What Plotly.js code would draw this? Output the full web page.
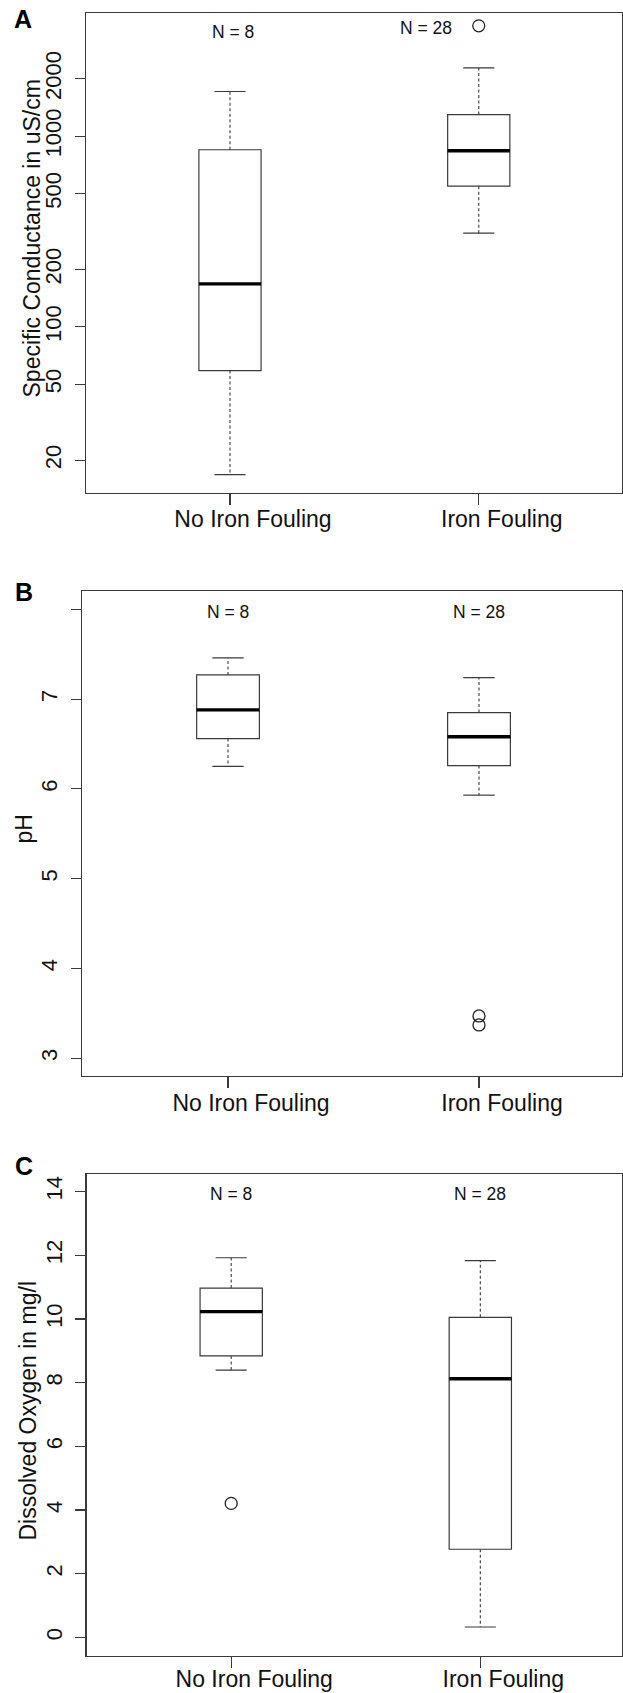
<!DOCTYPE html>
<html>
<head>
<meta charset="utf-8">
<script src="https://cdn.plot.ly/plotly-3.0.1.min.js"></script>
<style>
  html, body { margin: 0; padding: 0; background: #ffffff; }
  #chart { width: 623px; height: 1693px; }
</style>
</head>
<body>
<div id="chart"></div>
<script>
// ---------------- DATA ----------------
const categories = ['No Iron Fouling', 'Iron Fouling'];
const nCounts = [8, 28];

// Panel A: Specific conductance (uS/cm), log scale
const condLowerWhisker = [16.8, 310];
const condQ1 = [59, 547];
const condMedian = [168, 839];
const condQ3 = [849, 1298];
const condUpperWhisker = [1715, 2280];
const condOutliers = [[], [3790]];
const condTickVals = [20, 50, 100, 200, 500, 1000, 2000];
const condTickText = ['20', '50', '100', '200', '500', '1000', '2000'];

// Panel B: pH
const phLowerWhisker = [6.25, 5.93];
const phQ1 = [6.56, 6.26];
const phMedian = [6.88, 6.58];
const phQ3 = [7.27, 6.85];
const phUpperWhisker = [7.46, 7.24];
const phOutliers = [[], [3.47, 3.37]];
const phTickVals = [3, 4, 5, 6, 7, 8];
const phTickText = ['3', '4', '5', '6', '7', ''];

// Panel C: Dissolved oxygen (mg/l)
const doLowerWhisker = [8.39, 0.33];
const doQ1 = [8.84, 2.77];
const doMedian = [10.23, 8.12];
const doQ3 = [10.97, 10.05];
const doUpperWhisker = [11.92, 11.83];
const doOutliers = [[4.21], []];
const doTickVals = [0, 2, 4, 6, 8, 10, 12, 14];
const doTickText = ['0', '2', '4', '6', '8', '10', '12', '14'];

const panelLetters = ['A', 'B', 'C'];
const axisTitles = ['Specific Conductance in uS/cm', 'pH', 'Dissolved Oxygen in mg/l'];

// ---------------- LAYOUT HELPERS ----------------
const W = 623, H = 1693;
const FONT = 'Liberation Sans, Arial, Helvetica, sans-serif';
const LINE = '#3a3a3a';
const positions = categories.map((c, i) => i + 1);
const BOX_W = 0.25;

const panels = [
  { stats: [condLowerWhisker, condQ1, condMedian, condQ3, condUpperWhisker], out: condOutliers,
    tv: condTickVals, tt: condTickText, type: 'log', yr: [1.131, 3.647], xr: [0.422, 2.575],
    box: { top: 12.8, bottom: 492.6, left: 86.2, right: 621.8 }, xStand: -5,
    nY: [31.6, 27.7], nShift: [3, -53], titleXY: [31.5, 239], letterXY: [23.5, 18.5] },
  { stats: [phLowerWhisker, phQ1, phMedian, phQ3, phUpperWhisker], out: phOutliers,
    tv: phTickVals, tt: phTickText, type: 'linear', yr: [2.80, 8.20], xr: [0.419, 2.569],
    box: { top: 591.4, bottom: 1076.1, left: 82.2, right: 621.8 }, xStand: -5,
    nY: [611.8, 611.8], nShift: [0, 0], titleXY: [24, 829.6], letterXY: [24, 592] },
  { stats: [doLowerWhisker, doQ1, doMedian, doQ3, doUpperWhisker], out: doOutliers,
    tv: doTickVals, tt: doTickText, type: 'linear', yr: [-0.565, 14.543], xr: [0.4195, 2.568],
    box: { top: 1174.2, bottom: 1655.5, left: 86.6, right: 621.8 }, xStand: -8,
    nY: [1194.3, 1194.3], nShift: [0, 0], titleXY: [27, 1410.5], letterXY: [24, 1165.5] }
];

const traces = [];
const layout = {
  width: W, height: H,
  margin: { l: 0, r: 0, t: 0, b: 0 },
  paper_bgcolor: '#ffffff', plot_bgcolor: '#ffffff',
  showlegend: false,
  annotations: []
};

panels.forEach((p, k) => {
  const sfx = k === 0 ? '' : String(k + 1);
  const xa = 'x' + sfx, ya = 'y' + sfx;
  const [lw, q1, med, q3, uw] = p.stats;

  // box (rectangle) via box trace, whiskers drawn separately so they can be dashed
  traces.push({
    type: 'box', xaxis: xa, yaxis: ya,
    x: positions, q1: q1, median: med, q3: q3,
    lowerfence: q1, upperfence: q3,
    width: BOX_W, whiskerwidth: 0, boxpoints: false,
    fillcolor: '#ffffff', line: { color: LINE, width: 1.2 },
    hoverinfo: 'skip'
  });

  // dashed whiskers
  const wx = [], wy = [];
  positions.forEach((pos, i) => {
    wx.push(pos, pos, null, pos, pos, null);
    wy.push(q3[i], uw[i], null, q1[i], lw[i], null);
  });
  traces.push({ type: 'scatter', mode: 'lines', xaxis: xa, yaxis: ya, x: wx, y: wy,
    line: { color: LINE, width: 1.1, dash: '3px,2.5px' }, hoverinfo: 'skip' });

  // staples
  const sx = [], sy = [];
  positions.forEach((pos, i) => {
    const h = BOX_W / 4;
    sx.push(pos - h, pos + h, null, pos - h, pos + h, null);
    sy.push(uw[i], uw[i], null, lw[i], lw[i], null);
  });
  traces.push({ type: 'scatter', mode: 'lines', xaxis: xa, yaxis: ya, x: sx, y: sy,
    line: { color: LINE, width: 1.2 }, hoverinfo: 'skip' });

  // thick medians
  const mx = [], my = [];
  positions.forEach((pos, i) => {
    mx.push(pos - BOX_W / 2, pos + BOX_W / 2, null);
    my.push(med[i], med[i], null);
  });
  traces.push({ type: 'scatter', mode: 'lines', xaxis: xa, yaxis: ya, x: mx, y: my,
    line: { color: '#000000', width: 3.4 }, hoverinfo: 'skip' });

  // outliers
  const ox = [], oy = [];
  positions.forEach((pos, i) => { p.out[i].forEach(v => { ox.push(pos); oy.push(v); }); });
  traces.push({ type: 'scatter', mode: 'markers', xaxis: xa, yaxis: ya, x: ox, y: oy,
    marker: { symbol: 'circle-open', size: 12, color: '#222222', line: { width: 1.3 } },
    hoverinfo: 'skip' });

  const b = p.box;
  layout['xaxis' + sfx] = {
    domain: [b.left / W, b.right / W], range: p.xr, anchor: ya,
    showline: true, mirror: true, linecolor: LINE, linewidth: 1.2,
    ticks: 'outside', ticklen: 11, tickcolor: LINE, tickwidth: 1.2,
    tickmode: 'array', tickvals: positions, ticktext: categories,
    ticklabelshift: 23, ticklabelstandoff: p.xStand,
    tickfont: { family: FONT, size: 23, color: '#111111' },
    showgrid: false, zeroline: false, fixedrange: true
  };
  layout['yaxis' + sfx] = {
    domain: [1 - b.bottom / H, 1 - b.top / H], range: p.yr, type: p.type, anchor: xa,
    showline: true, mirror: true, linecolor: LINE, linewidth: 1.2,
    ticks: 'outside', ticklen: 10, tickcolor: LINE, tickwidth: 1.2,
    tickmode: 'array', tickvals: p.tv, ticktext: p.tt, tickangle: -90,
    ticklabelstandoff: 5,
    tickfont: { family: FONT, size: 22, color: '#111111' },
    showgrid: false, zeroline: false, fixedrange: true
  };

  // N labels
  positions.forEach((pos, i) => {
    layout.annotations.push({
      xref: xa, yref: 'paper', x: pos, y: 1 - p.nY[i] / H, xshift: p.nShift[i],
      text: 'N = ' + nCounts[i], showarrow: false, xanchor: 'center', yanchor: 'middle',
      font: { family: FONT, size: 17.5, color: '#111111' }
    });
  });

  // axis title
  layout.annotations.push({
    xref: 'paper', yref: 'paper', x: p.titleXY[0] / W, y: 1 - p.titleXY[1] / H,
    text: axisTitles[k], textangle: -90, showarrow: false, xanchor: 'center', yanchor: 'middle',
    font: { family: FONT, size: 23, color: '#111111' }
  });

  // panel letter
  layout.annotations.push({
    xref: 'paper', yref: 'paper', x: p.letterXY[0] / W, y: 1 - p.letterXY[1] / H,
    text: '<b>' + panelLetters[k] + '</b>', showarrow: false, xanchor: 'center', yanchor: 'middle',
    font: { family: FONT, size: 25, color: '#000000' }
  });
});

Plotly.newPlot('chart', traces, layout, { staticPlot: true, displayModeBar: false });
</script>
</body>
</html>
